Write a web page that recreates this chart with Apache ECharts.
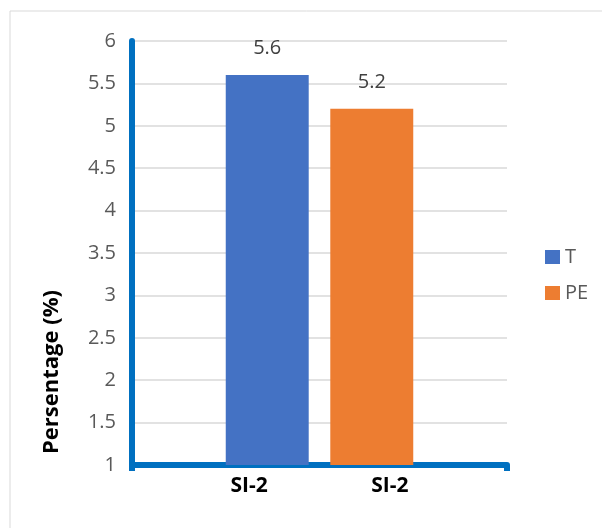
<!DOCTYPE html>
<html><head><meta charset="utf-8">
<script src="https://cdn.jsdelivr.net/npm/echarts@6/dist/echarts.min.js"></script>
<style>html,body{margin:0;padding:0;background:#fff}#c{width:602px;height:528px}</style>
</head><body><div id="c"></div>
<script>
const categories = ['SI-2'];
const labelSlots = ['', '', 'SI-2', '', '', 'SI-2', '', ''];
const seriesNames = ['T', 'PE'];
const valuesT = [5.6];
const valuesPE = [5.2];
const yTitle = 'Persentage (%)';
const FONT = 'Open Sans';

const chart = echarts.init(document.getElementById('c'), null, {renderer: 'canvas'});
chart.setOption({
  animation: false,
  textStyle: {fontFamily: FONT},
  graphic: [
    {type: 'rect', shape: {x: 10, y: 11, width: 600, height: 540}, style: {fill: 'none', stroke: '#D9D9D9', lineWidth: 1}, z: -1},
    {type: 'text', x: 52, y: 372, rotation: Math.PI / 2,
     style: {text: yTitle, font: 'bold 22px "Open Sans"', fill: '#000', textAlign: 'center', textVerticalAlign: 'middle'}}
  ],
  legend: {
    orient: 'vertical', left: 540, top: 242, itemWidth: 15, itemHeight: 14, itemGap: 16,
    icon: 'rect', textStyle: {fontSize: 20, color: '#595959', fontFamily: FONT},
    data: seriesNames
  },
  grid: {left: 132, right: 95, top: 41, bottom: 63},
  xAxis: [
    {type: 'category', data: categories, axisLabel: {show: false},
     axisLine: {lineStyle: {color: '#0070C0', width: 6}},
     axisTick: {show: true, length: 6, lineStyle: {color: '#0070C0', width: 6}}},
    {type: 'category', data: labelSlots, position: 'bottom', gridIndex: 0,
     axisLine: {show: false}, axisTick: {show: false},
     axisLabel: {interval: 0, margin: 11, fontSize: 21, fontWeight: 'bold', color: '#000', fontFamily: FONT}}
  ],
  yAxis: {
    type: 'value', min: 1, max: 6, interval: 0.5,
    axisLine: {show: true, lineStyle: {color: '#0070C0', width: 6}},
    axisTick: {show: false},
    splitLine: {lineStyle: {color: '#D9D9D9', width: 1.5}},
    axisLabel: {fontSize: 20, color: '#595959', margin: 16, fontFamily: FONT}
  },
  series: [
    {name: 'T', type: 'bar', data: valuesT, xAxisIndex: 0, barGap: '26%', barCategoryGap: '50%',
     itemStyle: {color: '#4472C4'},
     label: {show: true, position: 'top', distance: 17, fontSize: 20, color: '#404040', fontFamily: FONT}},
    {name: 'PE', type: 'bar', data: valuesPE, xAxisIndex: 0, barGap: '26%', barCategoryGap: '50%',
     itemStyle: {color: '#ED7D31'},
     label: {show: true, position: 'top', distance: 17, fontSize: 20, color: '#404040', fontFamily: FONT}}
  ]
});
</script></body></html>
